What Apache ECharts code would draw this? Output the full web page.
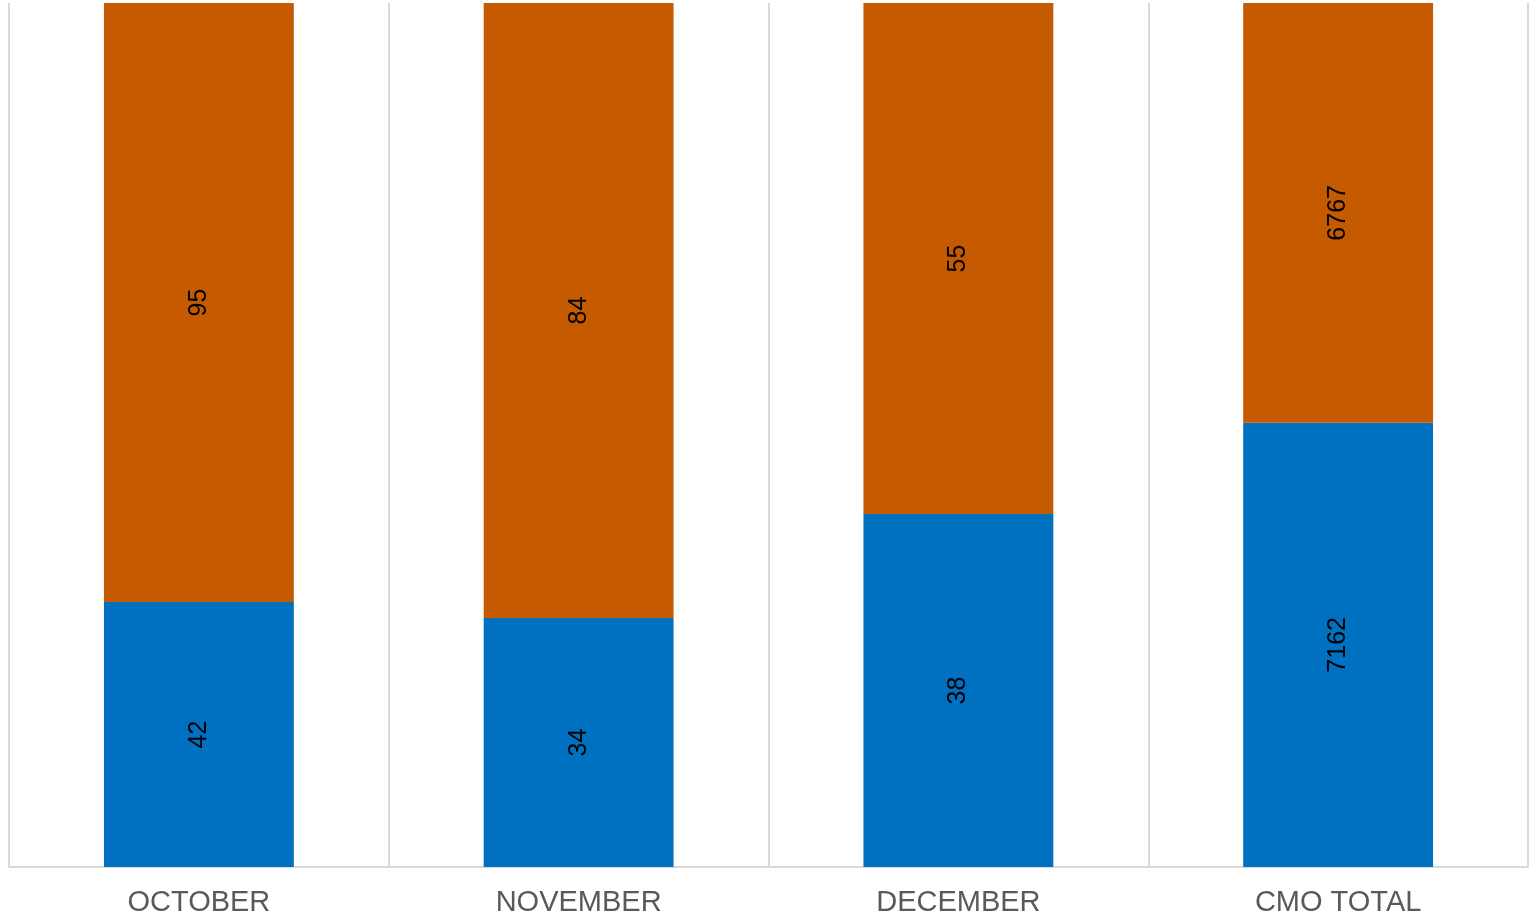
<!DOCTYPE html>
<html>
<head>
<meta charset="utf-8">
<style>
html,body{margin:0;padding:0;background:#fff;}
#chart{width:1537px;height:923px;}
</style>
<script src="https://cdn.jsdelivr.net/npm/echarts@6/dist/echarts.min.js"></script>
</head>
<body>
<div id="chart"></div>
<script>
const categories = ['OCTOBER', 'NOVEMBER', 'DECEMBER', 'CMO TOTAL'];
const blueValues = [42, 34, 38, 7162];
const orangeValues = [95, 84, 55, 6767];

const totals = categories.map((c, i) => blueValues[i] + orangeValues[i]);
function shareData(vals) {
  return vals.map((v, i) => ({ value: v / totals[i] * 100, raw: v }));
}

const labelCfg = {
  show: true,
  position: 'inside',
  rotate: 90,
  color: '#000',
  fontFamily: 'Liberation Sans, Arial, sans-serif',
  fontSize: 25,
  formatter: p => String(p.data.raw)
};

const chart = echarts.init(document.getElementById('chart'));
chart.setOption({
  animation: false,
  grid: { left: 9, right: 9, top: 3, bottom: 56, containLabel: false },
  xAxis: {
    type: 'category',
    data: categories,
    boundaryGap: true,
    axisLine: { show: true, lineStyle: { color: '#D9D9D9', width: 2 } },
    axisTick: { show: false },
    splitLine: { show: true, interval: 0, lineStyle: { color: '#D9D9D9', width: 2 } },
    axisLabel: {
      color: '#595959',
      fontFamily: 'Liberation Sans, Arial, sans-serif',
      fontSize: 29,
      margin: 21,
      interval: 0
    }
  },
  yAxis: {
    type: 'value',
    min: 0,
    max: 100,
    show: false,
    splitLine: { show: false }
  },
  series: [
    {
      name: 'Blue',
      type: 'bar',
      stack: 'total',
      barWidth: '50%',
      itemStyle: { color: '#0070C0' },
      label: labelCfg,
      data: shareData(blueValues)
    },
    {
      name: 'Orange',
      type: 'bar',
      stack: 'total',
      barWidth: '50%',
      itemStyle: { color: '#C55A00' },
      label: labelCfg,
      data: shareData(orangeValues)
    }
  ]
});
</script>
</body>
</html>
